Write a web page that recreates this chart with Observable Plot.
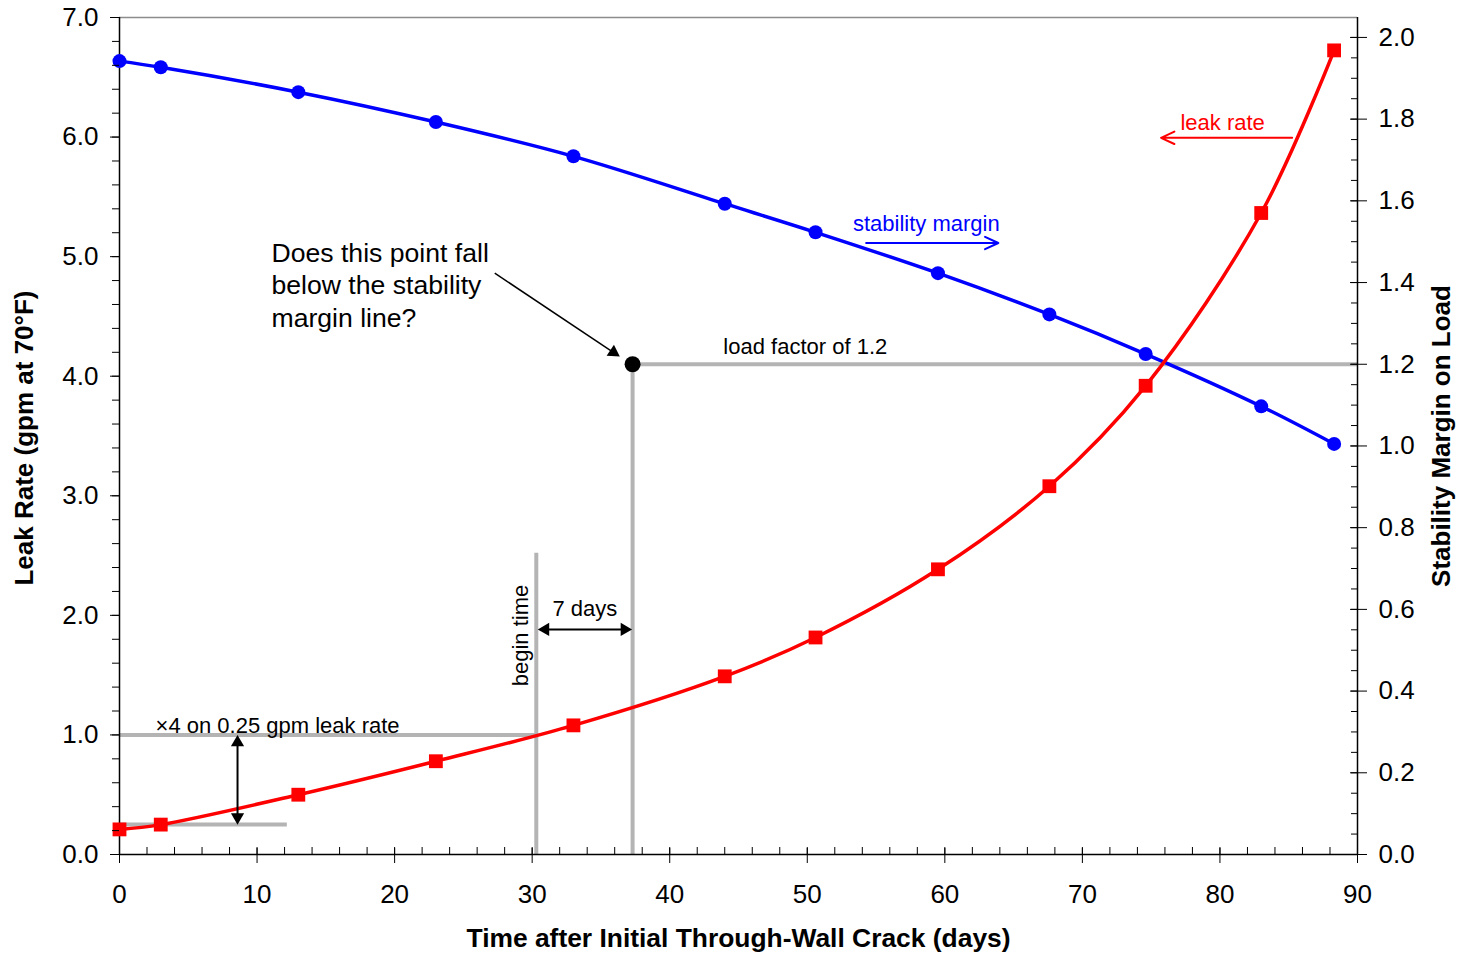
<!DOCTYPE html>
<html>
<head>
<meta charset="utf-8">
<script src="https://cdn.jsdelivr.net/npm/d3@7"></script>
<script src="https://cdn.jsdelivr.net/npm/@observablehq/plot@0.6"></script>
<style>
  html, body { margin: 0; padding: 0; background: #fff; }
</style>
</head>
<body>
<div id="chart"></div>
<script>
// ---- data ----
const days = [0, 3, 13, 23, 33, 44, 50.6, 59.5, 67.6, 74.6, 83, 88.3];
const leakRate = [0.21, 0.25, 0.50, 0.78, 1.08, 1.49, 1.815, 2.385, 3.08, 3.92, 5.365, 6.725];
const stabilityMargin = [1.942, 1.927, 1.866, 1.793, 1.709, 1.593, 1.523, 1.423, 1.322, 1.225, 1.097, 1.005];

// tick labels
const xTicks = [0, 10, 20, 30, 40, 50, 60, 70, 80, 90];
const yLeftTicks = [0, 1, 2, 3, 4, 5, 6, 7];
const yRightTicks = [0, 0.2, 0.4, 0.6, 0.8, 1.0, 1.2, 1.4, 1.6, 1.8, 2.0];

// reference values for annotations
const loadFactor = 1.2;          // stability margin (right axis)
const checkPointLeak = 4.1;      // leak rate at which load factor 1.2 is placed
const baseLeak = 0.25;
const x4Leak = 1.0;
const beginDay = 30.3;
const checkDay = 37.3;

// right axis scale factor: right value -> left units
const k = checkPointLeak / loadFactor;

const leakData = days.map((t, i) => ({t, v: leakRate[i]}));
const stabData = days.map((t, i) => ({t, s: stabilityMargin[i]}));

const xMinor = d3.range(0, 90.01, 2);
const yLeftMinor = d3.range(0, 7.01, 0.2);
const yRightMinor = d3.range(0, 2.001, 0.05).map(s => s * k);

const gray = "#b4b4b4";
const blank = () => "";

// arrowhead geometry (pixels)
const tipOff = 7.6;
const diagAngle = 33.7;
const rad = diagAngle * Math.PI / 180;

const chart = Plot.plot({
  width: 1459,
  height: 955,
  marginTop: 17,
  marginBottom: 101,
  marginLeft: 119,
  marginRight: 102,
  style: {fontFamily: "'Liberation Sans', Arial, sans-serif", fontSize: "26px", color: "#000", background: "#fff"},
  x: {domain: [0, 90]},
  y: {domain: [0, 7]},
  marks: [
    // gray reference lines
    Plot.ruleY([checkPointLeak], {x1: checkDay, x2: 90, stroke: gray, strokeWidth: 4}),
    Plot.ruleX([checkDay], {y1: 0, y2: checkPointLeak, stroke: gray, strokeWidth: 4}),
    Plot.ruleX([beginDay], {y1: 0, y2: 2.52, stroke: gray, strokeWidth: 4}),
    Plot.ruleY([x4Leak], {x1: 0, x2: beginDay, stroke: gray, strokeWidth: 4}),
    Plot.ruleY([baseLeak], {x1: 0, x2: 12.2, stroke: gray, strokeWidth: 4}),

    // frame
    Plot.ruleY([7], {stroke: "#8c8c8c", strokeWidth: 1.5}),
    Plot.ruleY([0], {stroke: "#000", strokeWidth: 1.5}),
    Plot.ruleX([0], {stroke: "#000", strokeWidth: 1.5}),
    Plot.ruleX([90], {stroke: "#000", strokeWidth: 1.5}),

    // series
    Plot.line(stabData, {x: "t", y: d => d.s * k, stroke: "#0000ff", strokeWidth: 3.5, curve: "catmull-rom"}),
    Plot.line(leakData, {x: "t", y: "v", stroke: "#ff0000", strokeWidth: 3.5, curve: "catmull-rom"}),
    Plot.dot(stabData, {x: "t", y: d => d.s * k, r: 7, fill: "#0000ff", stroke: null}),
    Plot.dot(leakData, {x: "t", y: "v", r: 7.8, symbol: "square", fill: "#ff0000", stroke: null}),

    // check point
    Plot.dot([{t: checkDay, v: checkPointLeak}], {x: "t", y: "v", r: 8, fill: "#000"}),

    // axes: bottom
    Plot.axisX(xTicks, {anchor: "bottom", tickSize: 9, tickPadding: 21, fontSize: 26, tickFormat: d => String(d), label: null}),
    Plot.axisX(xTicks, {anchor: "bottom", tickSize: -6, tickFormat: blank, label: null}),
    Plot.axisX(xMinor, {anchor: "bottom", tickSize: -7, tickFormat: blank, label: null}),
    // left
    Plot.axisY(yLeftTicks, {anchor: "left", tickSize: 9, tickPadding: 12, fontSize: 26, tickFormat: d => d.toFixed(1), label: null}),
    Plot.axisY(yLeftMinor, {anchor: "left", tickSize: 7, tickFormat: blank, label: null}),
    // right
    Plot.axisY(yRightTicks.map(s => s * k), {anchor: "right", tickSize: 9, tickPadding: 12, fontSize: 26, tickFormat: d => (d / k).toFixed(1), label: null}),
    Plot.axisY(yRightTicks.map(s => s * k), {anchor: "right", tickSize: -8, tickFormat: blank, label: null}),
    Plot.axisY(yRightMinor, {anchor: "right", tickSize: -7, tickFormat: blank, label: null}),

    // axis titles
    Plot.text(["Time after Initial Through-Wall Crack (days)"], {frameAnchor: "bottom", dy: 84, fontSize: 26.4, fontWeight: "bold", lineAnchor: "middle", textAnchor: "middle"}),
    Plot.text(["Leak Rate (gpm at 70°F)"], {frameAnchor: "left", dx: -95, dy: 2, rotate: -90, fontSize: 26, fontWeight: "bold", lineAnchor: "middle", textAnchor: "middle"}),
    Plot.text(["Stability Margin on Load"], {frameAnchor: "right", dx: 84, rotate: -90, fontSize: 26, fontWeight: "bold", lineAnchor: "middle", textAnchor: "middle"}),

    // question annotation
    Plot.text(["Does this point fall\nbelow the stability\nmargin line?"], {x: 11.05, y: 4.772, textAnchor: "start", lineAnchor: "middle", fontSize: 26.6, lineHeight: 1.22}),
    Plot.link([{}], {x1: 27.28, y1: 4.862, x2: 35.9, y2: 4.2, stroke: "#000", strokeWidth: 1.5}),
    Plot.dot([{}], {x: 36.37, y: 4.165, symbol: "triangle", r: 4.9, fill: "#000", stroke: null, rotate: 90 + diagAngle, dx: -tipOff * Math.cos(rad), dy: -tipOff * Math.sin(rad)}),

    Plot.text(["load factor of 1.2"], {x: 43.9, y: 4.246, textAnchor: "start", lineAnchor: "middle", fontSize: 22}),

    // 7 days
    Plot.link([{}], {x1: beginDay + 0.5, y1: 1.882, x2: checkDay - 0.5, y2: 1.882, stroke: "#000", strokeWidth: 2}),
    Plot.dot([{}], {x: beginDay, y: 1.882, symbol: "triangle", r: 4.9, fill: "#000", stroke: null, rotate: -90, dx: tipOff + 1.5}),
    Plot.dot([{}], {x: checkDay, y: 1.882, symbol: "triangle", r: 4.9, fill: "#000", stroke: null, rotate: 90, dx: -tipOff - 0.5}),
    Plot.text(["7 days"], {x: 31.48, y: 2.057, textAnchor: "start", lineAnchor: "middle", fontSize: 22}),
    Plot.text(["begin time"], {x: 29.22, y: 1.407, textAnchor: "start", lineAnchor: "middle", rotate: -90, fontSize: 22}),

    // x4 arrow
    Plot.link([{}], {x1: 8.58, y1: 0.95, x2: 8.58, y2: 0.3, stroke: "#000", strokeWidth: 2}),
    Plot.dot([{}], {x: 8.58, y: x4Leak, symbol: "triangle", r: 4.9, fill: "#000", stroke: null, rotate: 0, dy: tipOff}),
    Plot.dot([{}], {x: 8.58, y: baseLeak, symbol: "triangle", r: 4.9, fill: "#000", stroke: null, rotate: 180, dy: -tipOff}),
    Plot.text(["×4 on 0.25 gpm leak rate"], {x: 2.62, y: 1.079, textAnchor: "start", lineAnchor: "middle", fontSize: 22}),

    // series labels
    Plot.text(["stability margin"], {x: 53.32, y: 5.271, textAnchor: "start", lineAnchor: "middle", fontSize: 22, fill: "#0000ff"}),
    Plot.arrow([{}], {x1: 54.28, y1: 5.114, x2: 63.89, y2: 5.114, stroke: "#0000ff", strokeWidth: 2, headLength: 11, headAngle: 50}),
    Plot.text(["leak rate"], {x: 77.13, y: 6.114, textAnchor: "start", lineAnchor: "middle", fontSize: 22, fill: "#ff0000"}),
    Plot.arrow([{}], {x1: 85.25, y1: 5.994, x2: 75.72, y2: 5.994, stroke: "#ff0000", strokeWidth: 2, headLength: 11, headAngle: 50})
  ]
});

document.getElementById("chart").appendChild(chart);
</script>
</body>
</html>
